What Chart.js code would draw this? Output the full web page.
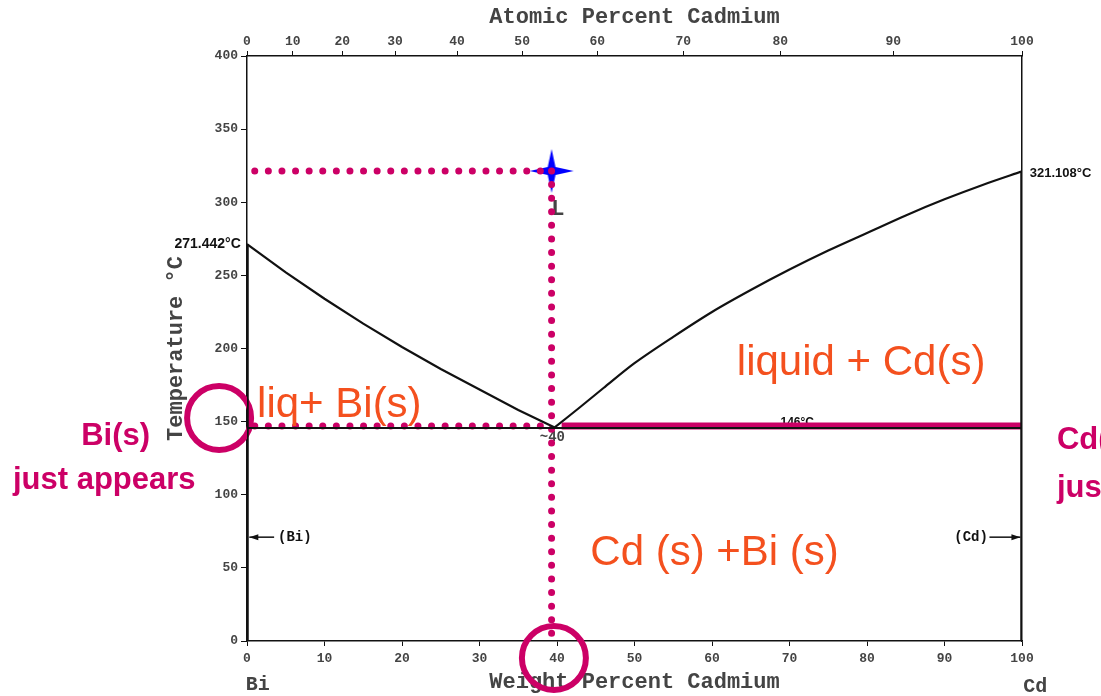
<!DOCTYPE html>
<html>
<head>
<meta charset="utf-8">
<script src="https://cdn.jsdelivr.net/npm/chart.js@4.4.1/dist/chart.umd.min.js"></script>
<style>
  html, body { margin: 0; padding: 0; background: #fff; overflow: hidden; }
</style>
</head>
<body>
<canvas id="chart" width="1101" height="696"></canvas>
<script>
// weight percent Cd on the bottom axis, atomic percent Cd on the top axis
const atomicLabels = ['0', '10', '20', '30', '40', '50', '60', '70', '80', '90', '100'];
const atomicAtWeight = [0, 5.9, 12.3, 19.1, 27.1, 35.5, 45.2, 56.3, 68.8, 83.4, 100];

// liquidus, Bi side
const biLiqW = [0, 5, 10, 15, 20, 25, 30, 35, 39.7];
const biLiqT = [271.442, 252, 234, 217, 201, 186, 172, 158, 146];

// liquidus, Cd side
const cdLiqW = [39.7, 43, 46, 50, 55, 60, 65, 70, 75, 80, 85, 90, 95, 100];
const cdLiqT = [146, 160, 173, 190, 208, 225, 240, 254, 267, 279, 291, 302, 312, 321.108];

const eutecticT = 146;
const biMeltT = 271.442;
const cdMeltT = 321.108;

// cooling path of the 40 wt% melt
const startW = 39.3;
const startT = 321.4;
const pathEndT = 1.5;
const hlineT = 147;

const MAGENTA = '#cc0066';
const ORANGE = '#f4501e';
const INK = '#111';
const GREY = '#444';
const MONO = '"Liberation Mono", "DejaVu Sans Mono", monospace';
const SANS = '"Liberation Sans", Arial, sans-serif';

const pts = (xs, ys) => xs.map((x, i) => ({ x: x, y: ys[i] }));

function makeStar() {
  const c = document.createElement('canvas');
  c.width = 46; c.height = 46;
  const g = c.getContext('2d');
  g.fillStyle = '#0000ff';
  g.beginPath();
  for (let i = 0; i < 8; i++) {
    const r = i % 2 === 0 ? 22 : 5.5;
    const a = -Math.PI / 2 + i * Math.PI / 4;
    const px = 23 + r * Math.cos(a), py = 23 + r * Math.sin(a);
    if (i) g.lineTo(px, py); else g.moveTo(px, py);
  }
  g.closePath();
  g.fill();
  return c;
}

function text(ctx, s, x, y, font, color, align, base) {
  ctx.font = font;
  ctx.fillStyle = color;
  ctx.textAlign = align || 'left';
  ctx.textBaseline = base || 'alphabetic';
  ctx.fillText(s, x, y);
}

function arrow(ctx, x1, x2, y) {
  ctx.strokeStyle = INK;
  ctx.fillStyle = INK;
  ctx.lineWidth = 1.5;
  ctx.beginPath(); ctx.moveTo(x1, y); ctx.lineTo(x2, y); ctx.stroke();
  const d = x2 > x1 ? -1 : 1;
  ctx.beginPath();
  ctx.moveTo(x2, y); ctx.lineTo(x2 + d * 9, y - 3); ctx.lineTo(x2 + d * 9, y + 3);
  ctx.closePath(); ctx.fill();
}

const labels = {
  id: 'labels',
  beforeDatasetsDraw(chart) {
    const { ctx, scales: { x, y } } = chart;
    const X = v => x.getPixelForValue(v), Y = v => y.getPixelForValue(v);
    ctx.save();
    text(ctx, 'L', X(40.1), Y(295.4), 'bold 22px ' + MONO, GREY, 'center', 'middle');
    text(ctx, '~40', X(39.4), Y(139.5), 'bold 14px ' + MONO, GREY, 'center', 'middle');
    text(ctx, '146°C', X(71), Y(149.3), 'bold 12px ' + SANS, INK, 'center', 'middle');
    ctx.restore();
  },
  afterDatasetsDraw(chart) {
    const { ctx, scales: { x, y } } = chart;
    const X = v => x.getPixelForValue(v), Y = v => y.getPixelForValue(v);
    ctx.save();
    text(ctx, '271.442°C', X(-0.8), Y(271.4), 'bold 14px ' + SANS, INK, 'right', 'middle');
    text(ctx, '321.108°C', X(101), Y(320), 'bold 13px ' + SANS, INK, 'left', 'middle');

    arrow(ctx, X(3.5), X(0.3), Y(71));
    text(ctx, '(Bi)', X(4), Y(71), 'bold 14px ' + MONO, INK, 'left', 'middle');
    text(ctx, '(Cd)', X(95.6), Y(71), 'bold 14px ' + MONO, INK, 'right', 'middle');
    arrow(ctx, X(95.8), X(99.8), Y(71));

    text(ctx, 'Bi', X(1.4), Y(-30), 'bold 20px ' + MONO, GREY, 'center', 'middle');
    text(ctx, 'Cd', X(101.7), Y(-31.5), 'bold 20px ' + MONO, GREY, 'center', 'middle');

    const big = '42px ' + SANS;
    text(ctx, 'liq+ Bi(s)', X(1.3), Y(153.2), big, ORANGE);
    text(ctx, 'liquid + Cd(s)', X(63.2), Y(181.9), big, ORANGE);
    text(ctx, 'Cd (s) +Bi (s)', X(44.3), Y(52), big, ORANGE);

    const note = 'bold 31px ' + SANS;
    text(ctx, 'Bi(s)', X(-21.4), Y(134), note, MAGENTA);
    text(ctx, 'just appears', X(-30.2), Y(103.9), note, MAGENTA);
    text(ctx, 'Cd(s)', X(104.5), Y(131.3), note, MAGENTA);
    text(ctx, 'just appears', X(104.5), Y(98.5), note, MAGENTA);
    ctx.restore();
  }
};

const dotted = {
  showLine: true, pointRadius: 0, borderColor: MAGENTA, borderWidth: 7,
  borderDash: [0, 13.6], borderCapStyle: 'round', fill: false
};
const solid = { showLine: true, pointRadius: 0, borderColor: INK, fill: false };

const axisFont = { family: MONO, size: 13, weight: 'bold' };
const titleFont = { family: MONO, size: 22, weight: 'bold' };
const border = { display: true, color: INK, width: 1.5, dash: [2, 2] };

new Chart(document.getElementById('chart'), {
  type: 'scatter',
  data: {
    datasets: [
      Object.assign({ data: pts(biLiqW, biLiqT), borderWidth: 2.2 }, solid),
      Object.assign({ data: pts(cdLiqW, cdLiqT), borderWidth: 2.2, tension: 0.3 }, solid),
      Object.assign({ data: [{ x: 0, y: eutecticT - 0.4 }, { x: 100, y: eutecticT - 0.4 }], borderWidth: 2 }, solid),
      Object.assign({ data: [{ x: 0, y: 0 }, { x: 0, y: biMeltT }], borderWidth: 3.5 }, solid),
      Object.assign({ data: [{ x: 100, y: 0 }, { x: 100, y: cdMeltT }], borderWidth: 3.5 }, solid),
      Object.assign({ data: [{ x: 1.0, y: startT }, { x: startW, y: startT }] }, dotted),
      Object.assign({ data: [{ x: 1.0, y: hlineT }, { x: 38.6, y: hlineT }] }, dotted),
      Object.assign({ data: [{ x: startW, y: startT }, { x: startW, y: pathEndT }] }, dotted),
      { data: [{ x: 40.6, y: hlineT }, { x: 100, y: hlineT }], showLine: true, pointRadius: 0,
        borderColor: MAGENTA, borderWidth: 7, fill: false },
      { data: [{ x: startW, y: startT }], pointStyle: makeStar(), pointRadius: 20 },
      { data: [{ x: -3.6, y: 152.5 }, { x: 39.6, y: -11.6 }], pointRadius: 32,
        pointBorderWidth: 6, pointBorderColor: MAGENTA, pointBackgroundColor: 'rgba(0,0,0,0)',
        clip: false }
    ]
  },
  options: {
    responsive: false,
    animation: false,
    events: [],
    layout: { padding: 0 },
    plugins: { legend: { display: false }, tooltip: { enabled: false } },
    scales: {
      x: {
        type: 'linear', position: 'bottom', min: 0, max: 100,
        afterFit: s => { s.height = 55; },
        ticks: { stepSize: 10, color: GREY, font: axisFont, padding: 5 },
        grid: { drawOnChartArea: false, tickLength: 5, color: INK },
        border: border,
        title: { display: true, text: 'Weight Percent Cadmium', color: GREY, font: titleFont,
                 padding: { top: 0, bottom: 0 } }
      },
      x2: {
        type: 'linear', position: 'top', min: 0, max: 100,
        afterFit: s => { s.height = 56; },
        afterBuildTicks: s => { s.ticks = atomicAtWeight.map(v => ({ value: v })); },
        ticks: { color: GREY, font: axisFont, padding: 1,
                 callback: (v, i) => atomicLabels[i] },
        grid: { drawOnChartArea: false, tickLength: 5, color: INK },
        border: border,
        title: { display: true, text: 'Atomic Percent Cadmium', color: GREY, font: titleFont,
                 padding: { top: 4, bottom: 0 } }
      },
      y: {
        type: 'linear', position: 'left', min: 0, max: 400,
        afterFit: s => { s.width = 247; },
        ticks: { stepSize: 50, color: GREY, font: axisFont, padding: 3 },
        grid: { drawOnChartArea: false, tickLength: 6, color: INK },
        border: border,
        title: { display: true, text: 'Temperature °C', color: GREY, font: titleFont,
                 padding: { top: 163, bottom: 0 } }
      },
      y2: {
        type: 'linear', position: 'right', min: 0, max: 400,
        afterFit: s => { s.width = 79; },
        ticks: { display: false },
        grid: { drawOnChartArea: false, drawTicks: false },
        border: border
      }
    }
  },
  plugins: [labels]
});
</script>
</body>
</html>
